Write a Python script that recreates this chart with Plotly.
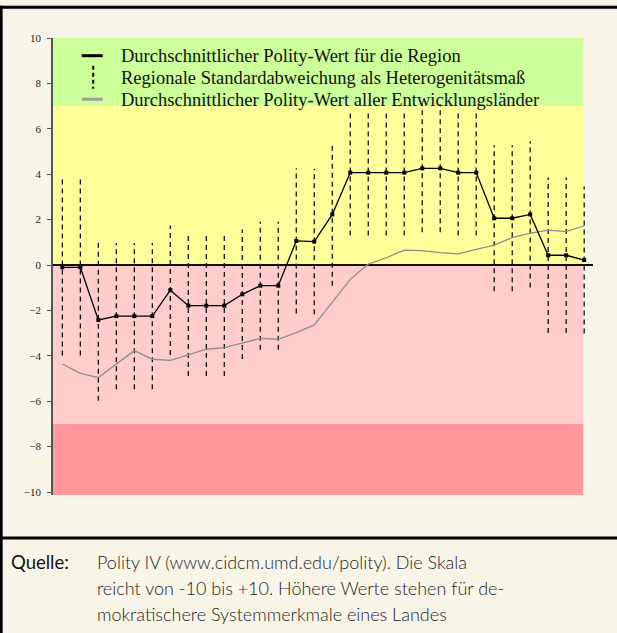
import plotly.graph_objects as go

# ---------------- data ----------------
periods = list(range(30))  # 30 consecutive observations (unlabelled x axis)

regional_mean = [-0.10, -0.10, -2.42, -2.25, -2.25, -2.25, -1.11, -1.79, -1.79, -1.79,
                 -1.29, -0.91, -0.91, 1.06, 1.03, 2.23, 4.07, 4.07, 4.07, 4.07,
                 4.26, 4.26, 4.07, 4.07, 2.06, 2.06, 2.23, 0.43, 0.43, 0.22]

regional_sd = [3.89, 3.89, 3.56, 3.22, 3.22, 3.22, 2.85, 3.10, 3.10, 3.10,
               2.85, 2.82, 2.82, 3.20, 3.20, 3.14, 2.77, 2.77, 2.77, 2.77,
               2.82, 2.82, 2.77, 2.77, 3.22, 3.22, 3.22, 3.42, 3.42, 3.24]

all_dev_mean = [-4.36, -4.77, -4.96, -4.36, -3.77, -4.15, -4.20, -3.96, -3.71, -3.64,
                -3.45, -3.23, -3.27, -2.98, -2.64, -1.61, -0.63, 0.04, 0.32, 0.66,
                0.63, 0.55, 0.49, 0.69, 0.88, 1.21, 1.40, 1.54, 1.47, 1.73]

y_ticks = [-10, -8, -6, -4, -2, 0, 2, 4, 6, 8, 10]

zone_bounds = [(7, 10), (0, 7), (-7, 0), (-10.13, -7)]
zone_colors = ["#ccff99", "#ffff99", "#ffcccc", "#ff9999"]

legend_labels = ["Durchschnittlicher Polity-Wert für die Region",
                 "Regionale Standardabweichung als Heterogenitätsmaß",
                 "Durchschnittlicher Polity-Wert aller Entwicklungsländer"]

source_label = "Quelle:"
source_lines = ["Polity IV (www.cidcm.umd.edu/polity). Die Skala",
                "reicht von -10 bis +10. Höhere Werte stehen für de-",
                "mokratischere Systemmerkmale eines Landes"]

# ---------------- layout geometry ----------------
W, H = 617, 633
L, R, T, B = 53.3, 593.0, 38.3, 495.0
BG = "#f8f4e7"


def px_x(px):
    return (px - L) / (R - L)


def px_y(py):
    return (B - py) / (B - T)


fig = go.Figure()

# standard deviation whiskers (dashed vertical segments)
sx, sy = [], []
for p, m, s in zip(periods, regional_mean, regional_sd):
    sx += [p, p, None]
    sy += [m - s, m + s, None]
fig.add_trace(go.Scatter(x=sx, y=sy, mode="lines",
                         line=dict(color="#111111", width=1.3, dash="5px,4px"),
                         hoverinfo="skip", showlegend=False))

# all developing countries
fig.add_trace(go.Scatter(x=periods, y=all_dev_mean, mode="lines",
                         line=dict(color="#8e8e8e", width=1.3),
                         showlegend=False))

# regional mean
fig.add_trace(go.Scatter(x=periods, y=regional_mean, mode="lines+markers",
                         line=dict(color="#000000", width=1.3),
                         marker=dict(symbol="square", size=4, color="#000000"),
                         showlegend=False))

shapes = []
# coloured zones
for (lo, hi), col in zip(zone_bounds, zone_colors):
    shapes.append(dict(type="rect", xref="x", yref="y", x0=-0.52, x1=28.95,
                       y0=lo, y1=hi, fillcolor=col, line=dict(width=0), layer="below"))

# frame lines
shapes.append(dict(type="line", xref="paper", yref="paper",
                   x0=px_x(0), x1=px_x(W), y0=px_y(7.5), y1=px_y(7.5),
                   line=dict(color="#000000", width=3)))
shapes.append(dict(type="line", xref="paper", yref="paper",
                   x0=px_x(1.5), x1=px_x(1.5), y0=px_y(6), y1=px_y(H),
                   line=dict(color="#000000", width=3)))
shapes.append(dict(type="line", xref="paper", yref="paper",
                   x0=px_x(0), x1=px_x(W), y0=px_y(538), y1=px_y(538),
                   line=dict(color="#000000", width=3)))

# legend symbols
shapes.append(dict(type="line", xref="paper", yref="paper",
                   x0=px_x(82), x1=px_x(103), y0=px_y(56), y1=px_y(56),
                   line=dict(color="#000000", width=3)))
shapes.append(dict(type="line", xref="paper", yref="paper",
                   x0=px_x(93.5), x1=px_x(93.5), y0=px_y(66), y1=px_y(89),
                   line=dict(color="#000000", width=2, dash="4px,3px")))
shapes.append(dict(type="line", xref="paper", yref="paper",
                   x0=px_x(82), x1=px_x(103), y0=px_y(99.5), y1=px_y(99.5),
                   line=dict(color="#a0a0a0", width=3)))

annotations = []
for lab, yy in zip(legend_labels, [56, 78.5, 100.5]):
    annotations.append(dict(text=lab, xref="paper", yref="paper",
                            x=px_x(119), y=px_y(yy), xanchor="left", yanchor="middle",
                            showarrow=False,
                            font=dict(family="Liberation Serif", size=18.5, color="#111111")))

annotations.append(dict(text=source_label, xref="paper", yref="paper",
                        x=px_x(9), y=px_y(562), xanchor="left", yanchor="middle",
                        showarrow=False,
                        font=dict(family="Lato", size=18.5, color="#111111")))
for line, yy in zip(source_lines, [562, 587.5, 613.5]):
    annotations.append(dict(text=line, xref="paper", yref="paper",
                            x=px_x(95.5), y=px_y(yy), xanchor="left", yanchor="middle",
                            showarrow=False,
                            font=dict(family="Lato", size=18, color="#1e1e1e", weight=300)))

fig.update_layout(
    width=W, height=H,
    margin=dict(l=L, r=W - R, t=T, b=H - B, pad=0),
    paper_bgcolor=BG, plot_bgcolor=BG,
    showlegend=False,
    shapes=shapes, annotations=annotations,
    xaxis=dict(range=[-0.52, 29.49], showgrid=False, zeroline=False,
               showticklabels=False, ticks="", showline=False, fixedrange=True),
    yaxis=dict(range=[-10.13, 10.0], tickvals=y_ticks, showgrid=False,
               zeroline=True, zerolinecolor="#111111", zerolinewidth=1.5,
               showline=True, linecolor="#555555", linewidth=1.5,
               ticks="outside", ticklen=4, tickcolor="#555555", tickwidth=1.2,
               ticklabelstandoff=4,
               tickfont=dict(family="Liberation Serif", size=11, color="#222222")),
)

fig.write_html("out.html", config={"displayModeBar": False},
               post_script=("document.body.style.margin='0px';"
                            "document.body.style.padding='0px';"
                            "document.body.style.overflow='hidden';"
                            "document.documentElement.style.overflow='hidden';"))
